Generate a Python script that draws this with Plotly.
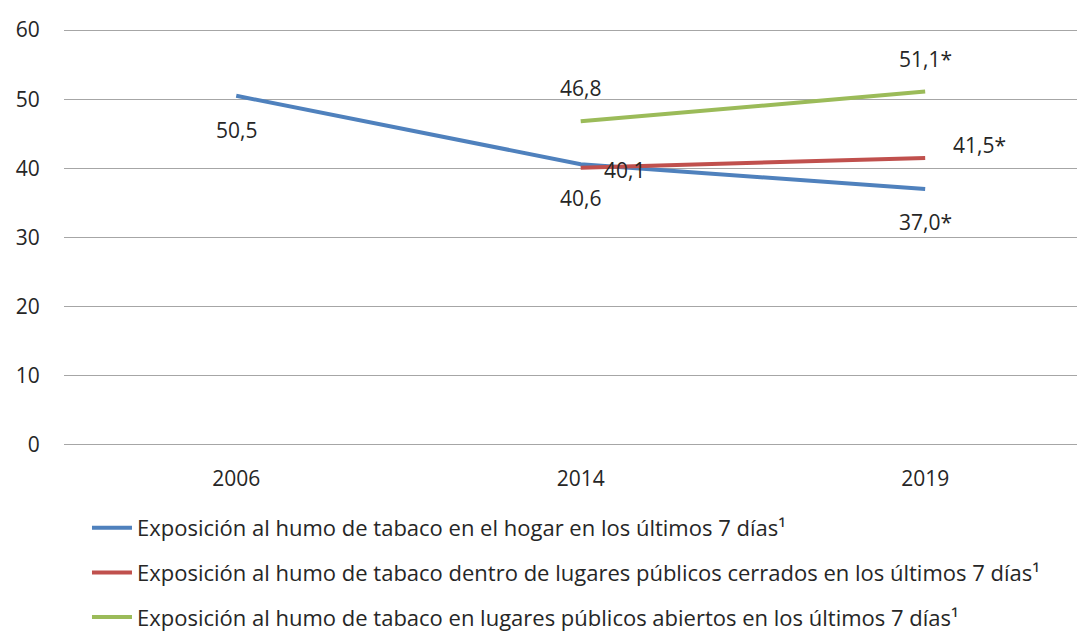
import plotly.graph_objects as go

years = ["2006", "2014", "2019"]
hogar = [50.5, 40.6, 37.0]
cerrados = [None, 40.1, 41.5]
abiertos = [None, 46.8, 51.1]
hogar_txt = ["50,5", "40,6", "37,0*"]
cerrados_txt = ["", "40,1", "41,5*"]
abiertos_txt = ["", "46,8", "51,1*"]
names = [
    "Exposición al humo de tabaco en el hogar en los últimos 7 días¹",
    "Exposición al humo de tabaco dentro de lugares públicos cerrados en los últimos 7 días¹",
    "Exposición al humo de tabaco en lugares públicos abiertos en los últimos 7 días¹",
]
colors = ["#4F81BD", "#C0504D", "#9BBB59"]
y_ticks = [0, 10, 20, 30, 40, 50, 60]

# label offsets (pixels) per series and point: (xshift, yshift)
label_shifts = [
    [(0, -34), (0, -34), (0, -33)],
    [(0, 0), (44, -2), (54, 13)],
    [(0, 0), (0, 33), (0, 33)],
]

FONT = "Open Sans"
TXT = "#262626"
fig = go.Figure()
series = [(hogar, hogar_txt), (cerrados, cerrados_txt), (abiertos, abiertos_txt)]
for i, (vals, txt) in enumerate(series):
    fig.add_trace(go.Scatter(
        x=years, y=vals, name=names[i], mode="lines",
        line=dict(color=colors[i], width=4),
        legendgroup=f"g{i}", connectgaps=False, cliponaxis=False,
    ))
    for j, (yv, t) in enumerate(zip(vals, txt)):
        if yv is None or not t:
            continue
        xs, ys = label_shifts[i][j]
        fig.add_annotation(
            x=j, y=yv, xref="x", yref="y", text=t, showarrow=False,
            xanchor="center", yanchor="middle",
            xshift=xs, yshift=ys, font=dict(family=FONT, size=21, color=TXT),
        )

fig.update_layout(
    width=1085, height=635,
    margin=dict(l=56, r=8, t=20, b=196, autoexpand=False),
    paper_bgcolor="white", plot_bgcolor="white",
    font=dict(family=FONT, size=21, color=TXT),
    showlegend=True,
    legend=dict(
        xref="container", yref="container", x=0.0728, y=1 - 499 / 635,
        xanchor="left", yanchor="top", orientation="v",
        font=dict(family=FONT, size=22, color=TXT),
        tracegroupgap=13, itemwidth=40,
    ),
    xaxis=dict(
        type="category", range=[-0.5, 2.464], showgrid=False, zeroline=False,
        showline=False, ticks="outside", ticklen=13, tickcolor="rgba(0,0,0,0)",
        tickfont=dict(family=FONT, size=21, color=TXT),
    ),
    yaxis=dict(
        range=[-0.3, 60.3], tickvals=y_ticks, showgrid=True, gridcolor="#A6A6A6",
        gridwidth=1, zeroline=False, showline=False, ticks="outside", ticklen=19,
        tickcolor="rgba(0,0,0,0)",
        tickfont=dict(family=FONT, size=21, color=TXT),
    ),
)
fig.write_html("out.html")
